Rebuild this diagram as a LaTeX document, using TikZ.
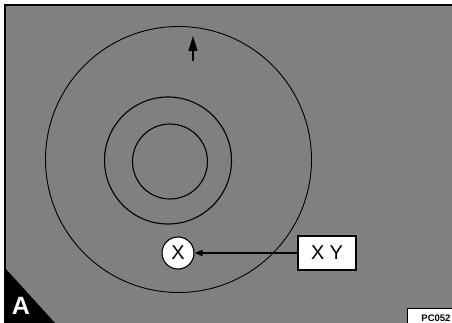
\documentclass[tikz,border=0pt]{standalone}
\usepackage{fontspec}
\setmainfont{Liberation Sans}
\usepackage{tikz}
\usetikzlibrary{arrows.meta}
\usepackage{xcolor}
\definecolor{panelgray}{gray}{0.5}

\begin{document}
\begin{tikzpicture}[x=1pt, y=-1pt,
    ring/.style={black, line width=1.1pt},
    label/.style={draw=black, fill=white, line width=1.1pt, inner sep=0pt,
      font=\fontsize{20}{20}\selectfont}]
    \useasboundingbox (0,0) rectangle (452,323);
    \fill[white] (0,0) rectangle (452,323);
    \fill[panelgray] (5,5) rectangle (452,323);
    \draw[line width=1.3pt] (5,323) -- (5,5) -- (452,5);
    \draw[ring, line width=0.9pt] (178.5,159.5) circle (133);
    \draw[ring] (168,160.5) circle (63.5);
    \draw[ring] (170,161.5) circle (37.5);
    \coordinate (tail) at (193,61);
    \coordinate (tip) at (193,36);
    \draw[line width=1.5pt, -{Triangle[length=15pt, width=9pt]}] (tail) -- (tip);
    \node[label, circle, minimum size=32pt] (xc) at (178,253) {X};
    \node[label, minimum width=58pt, minimum height=34pt] (xy) at (327,253) {X\hspace{5pt}Y};
    \draw[line width=1.3pt, -{Triangle[length=8pt, width=6pt]}] (xy.west) -- (xc.east);
    \fill[black] (5,268) -- (5,323) -- (55,323) -- cycle;
    \node[white, font=\bfseries\fontsize{25}{25}\selectfont] (corner) at (21,306) {A};
    \node[draw=black, fill=white, line width=1pt, minimum width=58pt, minimum height=20pt,
      inner sep=0pt, font=\bfseries\fontsize{9.5}{9.5}\selectfont] (code) at (436,318) {PC052};
\end{tikzpicture}
\end{document}
